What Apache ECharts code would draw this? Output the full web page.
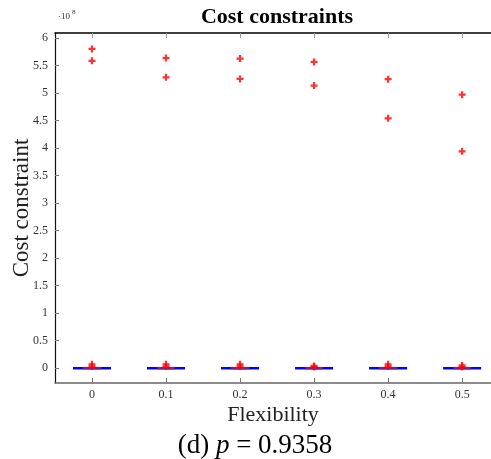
<!DOCTYPE html>
<html><head><meta charset="utf-8">
<script src="https://cdn.jsdelivr.net/npm/echarts@6/dist/echarts.min.js"></script>
<style>html,body{margin:0;padding:0;background:#fff}#c{width:491px;height:459px}</style>
</head><body><div id="c"></div>
<script>
// Flexibility categories (x positions)
var flexibility = [0, 0.1, 0.2, 0.3, 0.4, 0.5];
// Medians of each box (in units of 1e8)
var medians = [0, 0, 0, 0, 0, 0];
// High outliers (units of 1e8)
var outliersHigh = [
  [5.80, 5.585],
  [5.635, 5.285],
  [5.625, 5.255],
  [5.565, 5.135],
  [5.25, 4.54],
  [4.97, 3.94]
];
// Near-zero outliers (units of 1e8)
var outliersLow = [
  [0.07, 0.03],
  [0.07, 0.03],
  [0.07, 0.03],
  [0.04, 0.02],
  [0.07, 0.03],
  [0.05, 0.02]
];
var xTicks = [0, 0.1, 0.2, 0.3, 0.4, 0.5];
var yTicks = [0, 0.5, 1, 1.5, 2, 2.5, 3, 3.5, 4, 4.5, 5, 5.5, 6];

var scatterData = [];
flexibility.forEach(function (x, i) {
  outliersHigh[i].forEach(function (v) { scatterData.push([x, v]); });
  outliersLow[i].forEach(function (v) { scatterData.push([x, v]); });
});
var medData = flexibility.map(function (x, i) { return [x, medians[i]]; });

var serif = 'Liberation Serif';
var chart = echarts.init(document.getElementById('c'));
chart.setOption({
  animation: false,
  backgroundColor: '#fff',
  graphic: [
    { type: 'text', x: 277, y: 17, style: { text: 'Cost constraints', font: 'bold 22px "Liberation Serif"', fill: '#000', align: 'center', verticalAlign: 'middle' } },
    { type: 'text', x: 255, y: 446, style: {
        text: '(d) {i|p} = 0.9358', font: '27px "Liberation Serif"', fill: '#000', align: 'center', verticalAlign: 'middle',
        rich: { i: { font: 'italic 27px "Liberation Serif"', fill: '#000' } } } },
    { type: 'text', x: 58, y: 12, style: { text: '·10', font: '9px "Liberation Serif"', fill: '#333' } },
    { type: 'text', x: 72, y: 9, style: { text: '8', font: '7px "Liberation Serif"', fill: '#333' } }
  ],
  grid: { left: 55, top: 33, width: 436, height: 350, containLabel: false, outerBoundsMode: 'none' },
  xAxis: [
    { type: 'value', min: -0.05, max: 0.539, position: 'bottom',
      name: 'Flexibility', nameLocation: 'middle', nameGap: 21, nameMoveOverlap: false,
      nameTextStyle: { fontFamily: serif, fontSize: 22, color: '#222', verticalAlign: 'top' },
      axisLine: { show: true, onZero: false, lineStyle: { color: '#666', width: 1.5 } },
      axisTick: { show: true, inside: true, length: 5, customValues: xTicks, lineStyle: { color: '#777' } },
      axisLabel: { customValues: xTicks, fontFamily: serif, fontSize: 12, color: '#333', margin: 6,
        formatter: function (v) { return String(v); } },
      splitLine: { show: false } },
    { type: 'value', min: -0.05, max: 0.539, position: 'top',
      axisLine: { show: true, onZero: false, lineStyle: { color: '#000', width: 1.5 } },
      axisTick: { show: true, inside: true, length: 5, customValues: xTicks, lineStyle: { color: '#999' } },
      axisLabel: { show: false }, splitLine: { show: false } }
  ],
  yAxis: [
    { type: 'value', min: -0.27, max: 6.09, position: 'left',
      name: 'Cost constraint', nameLocation: 'middle', nameGap: 22, nameRotate: 90, nameMoveOverlap: false,
      nameTextStyle: { fontFamily: serif, fontSize: 23, color: '#222', verticalAlign: 'bottom' },
      axisLine: { show: true, onZero: false, lineStyle: { color: '#111', width: 1.2 } },
      axisTick: { show: true, inside: true, length: 4, customValues: yTicks, lineStyle: { color: '#777' } },
      axisLabel: { customValues: yTicks, fontFamily: serif, fontSize: 12, color: '#333', margin: 7,
        formatter: function (v) { return String(v); } },
      splitLine: { show: false } }
  ],
  series: [
    { type: 'custom', xAxisIndex: 0, yAxisIndex: 0, data: medData, z: 2,
      renderItem: function (params, api) {
        var x = api.value(0), y = api.value(1);
        var a = api.coord([x - 0.0257, y]), b = api.coord([x + 0.0257, y]);
        var c = api.coord([x - 0.012, y]), d = api.coord([x + 0.012, y]);
        return { type: 'group', children: [
          { type: 'line', shape: { x1: a[0], y1: a[1], x2: b[0], y2: b[1] }, style: { stroke: '#0000ff', lineWidth: 2.5 } },
          { type: 'line', shape: { x1: c[0], y1: c[1], x2: d[0], y2: d[1] }, style: { stroke: '#8a1f66', lineWidth: 2.5 } }
        ] };
      } },
    { type: 'scatter', xAxisIndex: 0, yAxisIndex: 0, data: scatterData, z: 3,
      symbol: 'path://M3.4,0H6.6V3.4H10V6.6H6.6V10H3.4V6.6H0V3.4H3.4Z',
      symbolSize: 7, itemStyle: { color: '#ff0000' } }
  ]
});
</script></body></html>
